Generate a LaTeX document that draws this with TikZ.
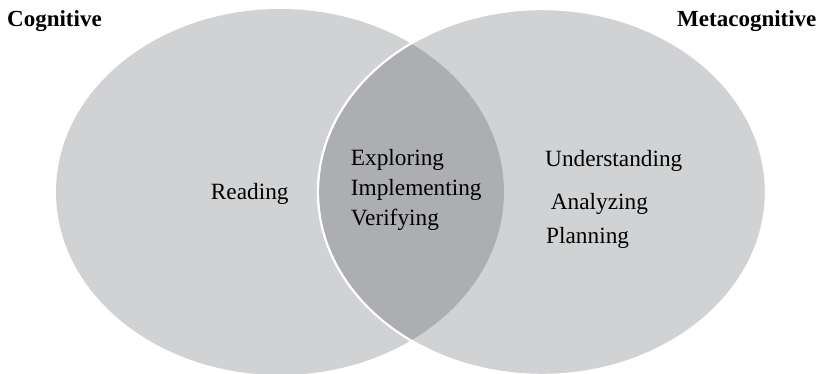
\documentclass[tikz,border=0pt]{standalone}
\usepackage{fontspec}
\setmainfont{Liberation Serif}
\definecolor{lightg}{HTML}{D1D2D4}
\definecolor{darkg}{HTML}{ADAEB1}
\tikzset{
  lbl/.style={anchor=base west, inner sep=0pt, font=\fontsize{23.3}{28}\selectfont},
  ttl/.style={anchor=base west, inner sep=0pt, font=\fontsize{23}{28}\selectfont\bfseries},
}
\begin{document}
\begin{tikzpicture}[x=1pt,y=-1pt]
\useasboundingbox (0,0) rectangle (821,374);
\clip (0,0) rectangle (821,374);
% ellipses
\fill[lightg] (280,192) ellipse [x radius=224, y radius=183];
\draw[lightg, fill=lightg, draw=white, line width=2.4pt] (542,192) ellipse [x radius=224, y radius=183];
\begin{scope}
  \clip (280,192) ellipse [x radius=224, y radius=183];
  \fill[darkg] (542,192) ellipse [x radius=222.8, y radius=181.8];
\end{scope}
% titles
\node[ttl] (cog) at (7,27) {Cognitive};
\node[ttl] (meta) at (677,27) {Metacognitive};
% labels
\node[lbl] (read) at (210.7,200) {Reading};
\node[lbl] (expl) at (350.7,166) {Exploring};
\node[lbl] (impl) at (350.7,195) {Implementing};
\node[lbl] (veri) at (350.7,225) {Verifying};
\node[lbl] (unde) at (545,167) {Understanding};
\node[lbl] (anal) at (550.7,209) {Analyzing};
\node[lbl] (plan) at (546,243) {Planning};
\end{tikzpicture}
\end{document}
